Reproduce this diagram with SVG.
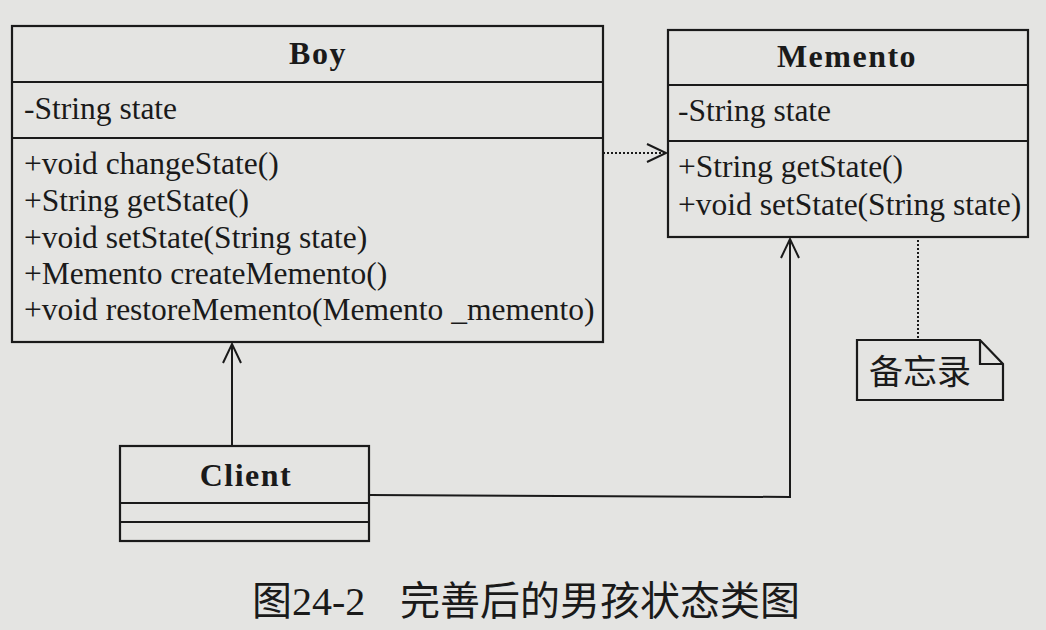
<svg xmlns="http://www.w3.org/2000/svg" width="1046" height="630" viewBox="0 0 1046 630">
<defs>
<style>
.box{fill:none;stroke:#1a1a1a;stroke-width:2.2}
.ln{fill:none;stroke:#1a1a1a;stroke-width:2}
.dot{fill:none;stroke:#1a1a1a;stroke-width:2;stroke-dasharray:2 2}
.t{font-family:"Liberation Serif","Times New Roman",serif;font-size:31.5px;fill:#1a1a1a}
.b{font-family:"Liberation Serif","Times New Roman",serif;font-size:32px;font-weight:bold;letter-spacing:1.5px;fill:#1a1a1a}
.cn{font-family:"Liberation Serif","Noto Sans CJK SC",sans-serif;fill:#1a1a1a}
</style>
<marker id="open" markerWidth="24" markerHeight="24" refX="21" refY="12" orient="auto" markerUnits="userSpaceOnUse">
<path d="M2,3 L21,12 L2,21" fill="none" stroke="#1a1a1a" stroke-width="2"/>
</marker>
</defs>
<rect width="1046" height="630" fill="#e4e4e2"/>
<g id="Boy">
<rect class="box" x="12" y="26" width="591" height="316"/>
<line class="ln" x1="12" y1="82" x2="603" y2="82"/>
<line class="ln" x1="12" y1="138" x2="603" y2="138"/>
<text class="b" x="318" y="64" text-anchor="middle">Boy</text>
<text class="t" x="24" y="119">-String state</text>
<text class="t" x="24" y="174">+void changeState()</text>
<text class="t" x="24" y="211">+String getState()</text>
<text class="t" x="24" y="248">+void setState(String state)</text>
<text class="t" x="24" y="284">+Memento createMemento()</text>
<text class="t" x="24" y="320">+void restoreMemento(Memento _memento)</text>
</g>
<g id="Memento">
<rect class="box" x="668" y="30" width="360" height="207"/>
<line class="ln" x1="668" y1="85" x2="1028" y2="85"/>
<line class="ln" x1="668" y1="141" x2="1028" y2="141"/>
<text class="b" x="847" y="67" text-anchor="middle">Memento</text>
<text class="t" x="678" y="121">-String state</text>
<text class="t" x="678" y="177">+String getState()</text>
<text class="t" x="678" y="215">+void setState(String state)</text>
</g>
<g id="Note">
<path class="box" d="M857,340 L980,340 L1003,364 L1003,400 L857,400 Z M980,340 L980,364 L1003,364"/>
<text class="cn" x="869" y="384" font-size="34">备忘录</text>
</g>
<g id="Client">
<rect class="box" x="120" y="446" width="249" height="95"/>
<line class="ln" x1="120" y1="503" x2="369" y2="503"/>
<line class="ln" x1="120" y1="522" x2="369" y2="522"/>
<text class="b" x="246" y="486" text-anchor="middle">Client</text>
</g>
<g id="connectors">
<line class="dot" x1="603" y1="153" x2="666" y2="153" marker-end="url(#open)"/>
<line class="dot" x1="918" y1="240" x2="918" y2="340"/>
<line class="ln" x1="232" y1="446" x2="232" y2="344" marker-end="url(#open)"/>
<polyline class="ln" points="369,495 790,497 790,239" marker-end="url(#open)"/>
</g>
<text class="cn" font-size="40" y="615"><tspan x="252">图24-2</tspan><tspan x="400">完善后的男孩状态类图</tspan></text>
</svg>
